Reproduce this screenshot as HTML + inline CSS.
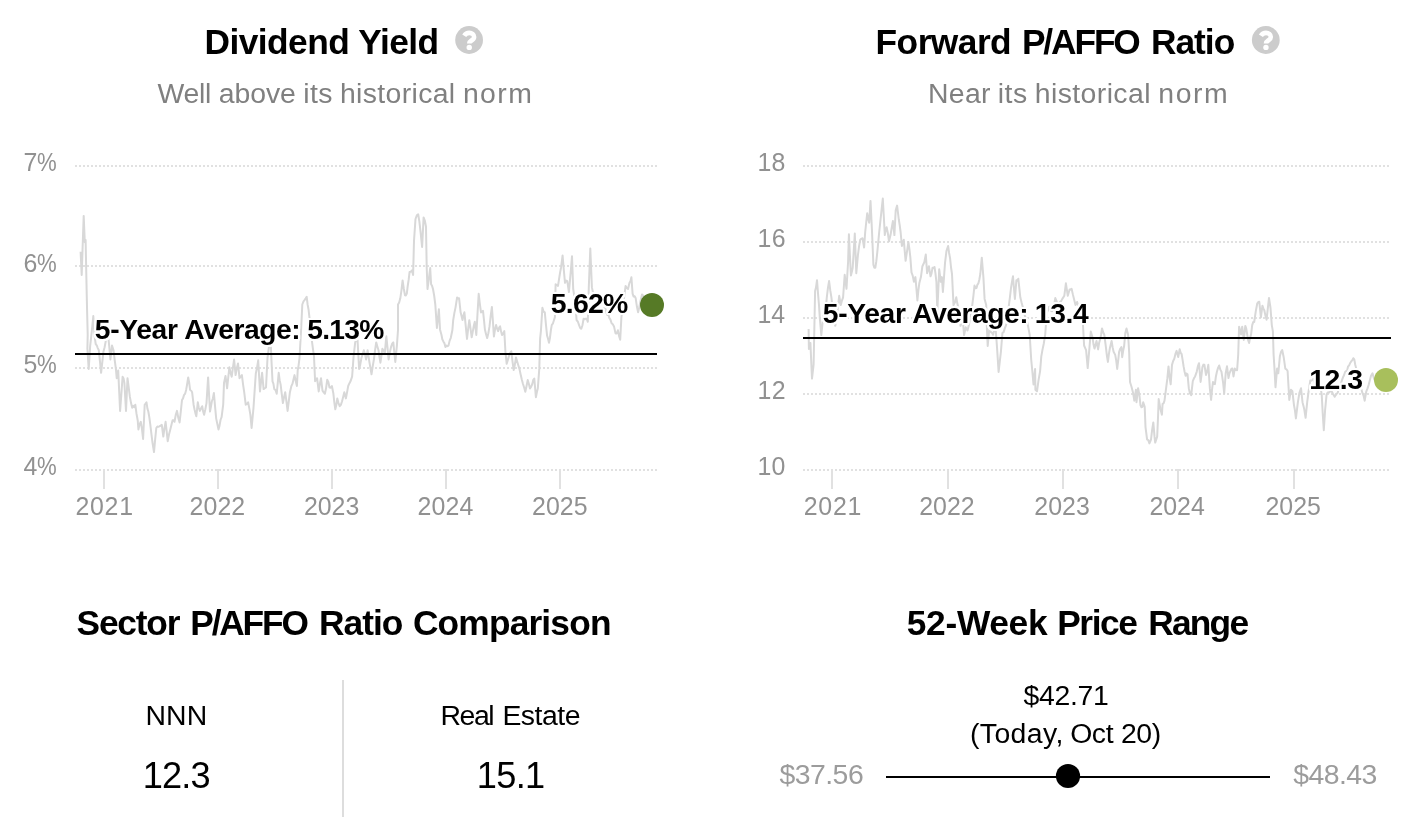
<!DOCTYPE html>
<html lang="en"><head><meta charset="utf-8"><title>Valuation</title>
<style>
html,body{margin:0;padding:0;background:#fff}
body{width:1424px;height:836px;position:relative;overflow:hidden;font-family:"Liberation Sans", sans-serif}
.tx{position:absolute;white-space:nowrap;line-height:1;font-family:"Liberation Sans", sans-serif;transform-origin:0 0}
#txt{position:absolute;left:0;top:0;width:1424px;height:836px;will-change:transform}
.w{position:absolute;top:0}
.pc{display:inline-block;transform:scaleX(0.8896);transform-origin:0 0}
.hl{text-shadow:2.20px 0.00px 0 #fff,2.03px 0.84px 0 #fff,1.56px 1.56px 0 #fff,0.84px 2.03px 0 #fff,0.00px 2.20px 0 #fff,-0.84px 2.03px 0 #fff,-1.56px 1.56px 0 #fff,-2.03px 0.84px 0 #fff,-2.20px 0.00px 0 #fff,-2.03px -0.84px 0 #fff,-1.56px -1.56px 0 #fff,-0.84px -2.03px 0 #fff,-0.00px -2.20px 0 #fff,0.84px -2.03px 0 #fff,1.56px -1.56px 0 #fff,2.03px -0.84px 0 #fff,1.20px 0.00px 0 #fff,0.85px 0.85px 0 #fff,0.00px 1.20px 0 #fff,-0.85px 0.85px 0 #fff,-1.20px 0.00px 0 #fff,-0.85px -0.85px 0 #fff,-0.00px -1.20px 0 #fff,0.85px -0.85px 0 #fff;z-index:2}
</style></head><body>
<svg width="1424" height="836" viewBox="0 0 1424 836" style="position:absolute;left:0;top:0">
<g transform="translate(469.1 40)"><circle r="13.9" fill="#cccccc"/><path d="M-4.9 -4.2C-3.7 -6.2 -2 -7.1 0.2 -7.1C2.9 -7.1 5 -5.4 5 -3.1C5 0.4 0.15 0.5 0.15 3.4" fill="none" stroke="#fff" stroke-width="4.6"/><circle cx="0.15" cy="7.4" r="2.7" fill="#fff"/></g>
<g transform="translate(1265.8 40)"><circle r="13.9" fill="#cccccc"/><path d="M-4.9 -4.2C-3.7 -6.2 -2 -7.1 0.2 -7.1C2.9 -7.1 5 -5.4 5 -3.1C5 0.4 0.15 0.5 0.15 3.4" fill="none" stroke="#fff" stroke-width="4.6"/><circle cx="0.15" cy="7.4" r="2.7" fill="#fff"/></g>
<!-- chart 1 -->
<line x1="75" x2="657" y1="166" y2="166" stroke="#e1e1e1" stroke-width="2" stroke-dasharray="2 2"/>
<line x1="75" x2="657" y1="266" y2="266" stroke="#e1e1e1" stroke-width="2" stroke-dasharray="2 2"/>
<line x1="75" x2="657" y1="368" y2="368" stroke="#e1e1e1" stroke-width="2" stroke-dasharray="2 2"/>
<line x1="75" x2="657" y1="470" y2="470" stroke="#e1e1e1" stroke-width="2" stroke-dasharray="2 2"/>
<rect x="103" y="469" width="2" height="20" fill="#e1e1e1"/>
<rect x="217" y="469" width="2" height="20" fill="#e1e1e1"/>
<rect x="331" y="469" width="2" height="20" fill="#e1e1e1"/>
<rect x="445" y="469" width="2" height="20" fill="#e1e1e1"/>
<rect x="559" y="469" width="2" height="20" fill="#e1e1e1"/>
<path d="M80.6 251.7 L81.7 275 L82.7 244.86 L83.7 215.9 L84.8 242.3 L85.6 240 L86.8 298.3 L87.7 335 L87.4 348.7 L88.7 368.9 L90.2 345.6 L91.23 336.29 L92.27 326.29 L93.3 316 L94.6 336.2 L95.7 344 L96.73 345.28 L97.77 348.12 L98.8 350.2 L99.95 361.42 L101.1 372.8 L102.25 362.54 L103.4 351.8 L104.6 347.27 L105.8 340.9 L106.95 336.5 L108.1 334.7 L109.25 346.35 L110.4 359.5 L112 345.6 L113.5 350.2 L114.7 360.09 L115.9 368.9 L116.7 378.2 L118.2 370.4 L119.15 390.54 L120.1 410.9 L121.35 394.22 L122.6 376.7 L123.5 378.21 L124.4 382.9 L126 410.9 L127.5 378.2 L128.7 387.46 L129.9 396.9 L131.05 403.06 L132.2 407.8 L133.23 405.9 L134.27 407.16 L135.3 404.7 L136.5 413.73 L137.7 420.2 L138.4 429.5 L139.6 424.15 L140.8 421.8 L141.95 428.83 L143.1 438.9 L144.7 404.7 L145.6 403.63 L146.5 402.3 L147.43 408.64 L148.37 411.79 L149.3 417.1 L150.33 424.95 L151.37 433.58 L152.4 442 L154 452.1 L155.15 439.3 L156.3 428 L157.33 426.58 L158.37 426.73 L159.4 426.4 L160.6 425.64 L161.8 424.9 L163.3 436.5 L164.45 428.3 L165.6 421.8 L166.65 431.07 L167.7 441.2 L169 434.45 L170.3 429.5 L171.45 424.72 L172.6 420.2 L173.55 420.33 L174.5 421.8 L175.75 414.82 L177 410.9 L178.3 417.78 L179.6 422.5 L180.8 411.34 L182 400 L183.03 398.39 L184.07 394.86 L185.1 393.8 L186.13 389.91 L187.17 384.02 L188.2 377.4 L189.15 382.44 L190.1 389.9 L191.1 390.51 L192.1 392.2 L193.6 404.7 L194.5 409.28 L195.4 413.11 L196.3 416.3 L197.8 402.3 L198.85 408 L199.9 410.9 L201.05 408.3 L202.2 406.2 L203.15 411.56 L204.1 414.8 L205.3 409.49 L206.5 403.1 L208.1 377.4 L209.05 394.19 L210 411.6 L210.9 406.83 L211.8 401.5 L212.85 398.47 L213.9 393 L215.05 406.35 L216.2 418.6 L217.35 424.07 L218.5 429.5 L219.53 425.65 L220.57 419.74 L221.6 417.1 L223.2 404.7 L224 382.9 L225.5 375.9 L227.1 388.3 L228.25 377.39 L229.4 367.3 L230.55 372.95 L231.7 376.7 L232.9 367.83 L234.1 359.5 L235.6 375.1 L236.8 368.2 L238 363.4 L239.5 378.2 L240.7 376.81 L241.9 375.1 L243.05 384.3 L244.2 392.2 L245.7 404.7 L246.9 404.06 L248.1 402.3 L249.25 408.15 L250.4 414.8 L251.6 428 L252.55 417.8 L253.5 407.8 L254.65 390.66 L255.8 373.5 L257 367.79 L258.2 360.3 L259.1 375.88 L260 391.4 L261.05 381.93 L262.1 372.8 L263.6 389.1 L264.8 388.27 L266 387.5 L267.5 358 L269.1 345.6 L269.7 322.2 L270.6 339.3 L271.5 361.1 L272.5 381.3 L273.4 383.69 L274.3 389.1 L275.5 389.99 L276.7 393.8 L277.7 383.63 L278.7 372.8 L279.65 380.15 L280.6 384.4 L281.75 393.9 L282.9 403.1 L284.05 397.31 L285.2 392.2 L286.4 401.02 L287.6 410.9 L288.75 401.55 L289.9 392.2 L291.4 386 L292.43 383.91 L293.47 379.6 L294.5 375.1 L295.7 380.68 L296.9 386 L297.7 370.4 L298.6 365.35 L299.5 358 L301.1 330 L302.3 304.5 L303.5 301.34 L304.7 299.9 L305.7 298.39 L306.7 296.8 L307.6 304.45 L308.5 309.2 L310.1 323.2 L311.7 335 L311.7 339.3 L312.85 348.1 L314 356.4 L315.1 381.3 L316.1 379.62 L317.1 378.2 L318.7 391.4 L319.85 384.06 L321 378.2 L322.5 390.7 L323.7 392.4 L324.9 393.8 L326.05 388.26 L327.2 379.8 L328.35 382.07 L329.5 387.5 L330.7 387.66 L331.9 386 L333.4 393.8 L334.35 402.58 L335.3 409.3 L336.3 405.09 L337.3 398.4 L338.5 403.07 L339.7 406.2 L340.85 404.84 L342 401.5 L343.15 396.91 L344.3 392.2 L345.9 398.4 L347.05 392.4 L348.2 386 L349.35 383.41 L350.5 381.3 L352.1 376.7 L353.6 356.4 L355.2 342.4 L356.35 339.43 L357.5 339.3 L359.1 368.9 L360.25 364.63 L361.4 358 L362.6 354.32 L363.8 350.2 L364.95 353.89 L366.1 359.5 L367.6 350.2 L368.55 356.47 L369.5 362.7 L370.5 368.45 L371.5 374.3 L372.7 366.44 L373.9 359.5 L375.05 350.46 L376.2 342.4 L377.35 346.42 L378.5 350.2 L379.45 356.85 L380.4 362.7 L381.4 356.06 L382.4 348.7 L383.6 350.87 L384.8 353.3 L386.3 336.2 L387.45 347.09 L388.6 359.5 L389.8 352.43 L391 347.1 L392.15 343.72 L393.3 342.4 L394.3 352.29 L395.3 361.9 L396.9 345.6 L398 330 L398 304.5 L399.15 302.56 L400.3 298.3 L401.45 290.31 L402.6 280.4 L403.8 288.75 L405 295.2 L405.9 295.41 L406.8 293.6 L407.73 285.98 L408.67 279.68 L409.6 271.9 L410.8 271.65 L412 270.3 L413.1 275 L414 240.8 L415.5 219 L416.85 215.32 L418.2 214.3 L419.35 221.3 L420.5 231.4 L422.1 247 L423.6 217.4 L424.8 220.55 L426 226.8 L426.7 267.2 L427.5 289 L428.85 278.91 L430.2 268 L431.1 284.3 L432.05 285.85 L433 289 L434.15 295.5 L435.3 304.5 L436.9 327.9 L437.9 318.75 L438.9 309.2 L440 329.4 L441.5 335 L442.3 339.3 L443.33 341.4 L444.37 343.12 L445.4 347.1 L446.43 345.51 L447.47 346.19 L448.5 345.6 L449.65 340.64 L450.8 337.8 L452.4 330 L453.2 320.1 L454.35 313.12 L455.5 307.6 L457.1 297.5 L458.1 298.58 L459.1 298.3 L460.6 312.3 L461.55 316.06 L462.5 320.1 L463.45 315.63 L464.4 312.3 L465.7 325.56 L467 338.9 L468.15 328.79 L469.3 320.2 L470.5 328.39 L471.7 337.3 L472.73 331.88 L473.77 325.97 L474.8 321.8 L476.3 335 L477.5 313.77 L478.7 293.8 L479.85 303.74 L481 312.4 L482 311.68 L483 310.9 L483.95 319.73 L484.9 329.5 L486.05 334.14 L487.2 338.1 L488.35 333.26 L489.5 326.4 L490.7 315.93 L491.9 307 L492.9 320.98 L493.9 336.5 L495 329.57 L496.1 324.9 L497.1 328.7 L498.1 331.1 L499.1 327.66 L500.1 326.4 L501.05 331.35 L502 335 L503.15 333.62 L504.3 331.1 L505.4 351.3 L506.7 363.8 L507.85 360.04 L509 356 L510.15 352.76 L511.3 351.3 L512.5 361.41 L513.7 370 L514.85 364.7 L516 357.5 L517.15 361.45 L518.3 365.3 L519.5 369.11 L520.7 374.7 L521.85 379.83 L523 384 L524.15 387.56 L525.3 391.8 L526.5 386.19 L527.7 380.1 L528.85 383.78 L530 388.6 L531.15 386.72 L532.3 384 L533.3 379.84 L534.3 378.5 L535.9 397.2 L536.85 392.26 L537.8 388.6 L539.3 368.4 L540.1 338.9 L540.9 331.1 L542.4 307.8 L543.6 311.6 L544.8 312.4 L545.95 324.7 L547.1 335.8 L548.05 338.68 L549 342.8 L549.93 337.98 L550.87 330.26 L551.8 324.9 L552.83 323.71 L553.87 320.48 L554.9 317.1 L555.6 284.3 L556.8 284.83 L558 285.9 L559.03 279.27 L560.07 272.65 L561.1 267.2 L562.6 255.5 L563.8 269.76 L565 282.8 L566.15 280.52 L567.3 281.2 L568.9 292.1 L569.93 280.68 L570.97 268.97 L572 256.3 L573.2 289 L574.15 295.42 L575.1 301.4 L576.6 320.2 L577.8 321.5 L579 324.9 L580.15 328.03 L581.3 328.8 L582.45 325.27 L583.6 318.7 L584.63 319.35 L585.67 318.73 L586.7 318.7 L587.8 321.8 L588.8 287.4 L590.3 248.5 L591.9 287.4 L593.03 292.71 L594.17 298.31 L595.3 304.5 L596.24 305.12 L597.18 308.18 L598.12 308.97 L599.06 309.76 L600 312.3 L600.92 310.09 L601.84 310.95 L602.76 308.83 L603.68 308.54 L604.6 307.6 L605.54 309.1 L606.48 312.91 L607.42 315.06 L608.36 314.3 L609.3 317.9 L610.45 319.64 L611.6 323.3 L612.8 324.3 L614 326.4 L615.5 333.4 L616.7 333.41 L617.9 330.3 L619.05 335.9 L620.2 339.7 L621.4 317.1 L622.35 310.29 L623.3 304.5 L624.45 294.74 L625.6 285.9 L626.8 288.01 L628 289 L629.5 282.8 L630.45 281.13 L631.4 277.3 L632.6 293.6 L633.63 296.55 L634.67 296.23 L635.7 298.3 L636.9 306.52 L638.1 312.3 L639.25 307.45 L640.4 301.4 L642 294.4 L642.91 295.31 L643.82 297.88 L644.73 296.44 L645.64 298.98 L646.55 297.89 L647.45 299.12 L648.36 302.46 L649.27 301.19 L650.18 303.9 L651.09 304.36 L652 305" fill="none" stroke="#d8d8d8" stroke-width="2" stroke-linejoin="round"/>
<rect x="75" y="353" width="582" height="2" fill="#000"/>
<circle cx="652" cy="305" r="12" fill="#567a26"/>
<!-- chart 2 -->
<line x1="803" x2="1389" y1="166" y2="166" stroke="#e1e1e1" stroke-width="2" stroke-dasharray="2 2"/>
<line x1="803" x2="1389" y1="242" y2="242" stroke="#e1e1e1" stroke-width="2" stroke-dasharray="2 2"/>
<line x1="803" x2="1389" y1="318" y2="318" stroke="#e1e1e1" stroke-width="2" stroke-dasharray="2 2"/>
<line x1="803" x2="1389" y1="394" y2="394" stroke="#e1e1e1" stroke-width="2" stroke-dasharray="2 2"/>
<line x1="803" x2="1389" y1="470" y2="470" stroke="#e1e1e1" stroke-width="2" stroke-dasharray="2 2"/>
<rect x="831" y="469" width="2" height="20" fill="#e1e1e1"/>
<rect x="947" y="469" width="2" height="20" fill="#e1e1e1"/>
<rect x="1062" y="469" width="2" height="20" fill="#e1e1e1"/>
<rect x="1177" y="469" width="2" height="20" fill="#e1e1e1"/>
<rect x="1293" y="469" width="2" height="20" fill="#e1e1e1"/>
<path d="M808.6 328.9 L808.9 349.1 L810.4 342.9 L812 378.6 L813.6 364.7 L814.5 321.1 L815.1 291.1 L816.05 287.11 L817 280.2 L818 293.37 L819 305.1 L819.8 318 L821.3 335.1 L822.5 323.49 L823.7 313.3 L825.2 314.4 L826.8 297.3 L827.95 287.82 L829.1 281 L830.25 290.22 L831.4 297.3 L833 311.3 L834.15 319.31 L835.3 325.8 L836.5 317.79 L837.7 308.7 L839.2 295.8 L840.8 305.1 L841.95 300.59 L843.1 297.3 L844.7 274.8 L846.5 288.8 L848.1 261.5 L848.9 234.3 L849.9 255.07 L850.9 275.5 L851.8 271.99 L852.7 267.8 L853.75 250.78 L854.8 233.5 L856.3 273.2 L857.9 255.3 L859.05 246.46 L860.2 239.8 L861.35 238.78 L862.5 238.2 L864.1 247.5 L865.2 232 L866.2 222.48 L867.2 213.3 L868.2 218.71 L869.2 222.7 L870.5 200.9 L871.9 228.9 L873.4 264.7 L874.35 267.83 L875.3 267.8 L876.3 261.44 L877.3 252.2 L878.25 242.17 L879.2 232 L880.2 222.56 L881.2 213.3 L882.8 198.6 L883.8 216.48 L884.8 235.1 L885.7 229.71 L886.6 227.3 L887.8 232.79 L889 241.3 L890.5 235.1 L891.7 227.99 L892.9 221.1 L894.4 235.1 L895.7 210.2 L897.1 205.6 L898.8 219.5 L899.7 225.17 L900.6 232 L901.9 246 L902.85 242.52 L903.8 239.8 L904.7 250.93 L905.6 260.8 L906.53 254.61 L907.47 248.43 L908.4 242.1 L909.35 248.66 L910.3 256.9 L911.5 272.4 L912.7 275.58 L913.9 281.8 L915.4 277.1 L916.4 288.47 L917.4 300.4 L918.35 290.69 L919.3 283.3 L920.9 277.1 L922.4 266.2 L923.35 264.28 L924.3 262.3 L925.8 254.5 L927.1 273.2 L928.9 266.2 L930.5 276.3 L931.5 273.65 L932.5 267.8 L933.5 267.96 L934.5 267 L935.45 273.38 L936.4 281.8 L937.3 311.3 L938.25 290.93 L939.2 269.3 L940.8 281.8 L941.9 277.1 L942.9 291.9 L943.95 277.97 L945 263.1 L946.5 250.7 L948.1 246 L949.1 252.95 L950.1 258.4 L951.05 267.5 L952 274 L953.5 305.1 L955.1 302 L956.3 297.3 L957.25 303.04 L958.2 307.1 L959.35 316.91 L960.5 325.8 L961.7 322.98 L962.9 321.1 L964.1 335.1 L965.7 327.3 L967.5 330.4 L969.1 324.2 L970.6 313.3 L972.2 305.6 L973.35 296.37 L974.5 285.6 L975.5 288.28 L976.5 288 L977.45 284.57 L978.4 283.3 L979.35 279.46 L980.3 274 L981.8 257.7 L983.4 277.1 L984.6 298.9 L986.2 305.1 L987 330.4 L987.7 346 L989.3 328.9 L990 330 L991.03 332.26 L992.07 333.01 L993.1 334.7 L994.25 330.1 L995.4 325.3 L997 347.1 L998.6 372 L999.75 361.88 L1000.9 351.8 L1002.4 333.1 L1003.6 332.11 L1004.8 328.4 L1005.95 325.3 L1007.1 322.2 L1008.7 306.7 L1009.85 297.88 L1011 288 L1012 281.68 L1013 276.3 L1013.95 288.21 L1014.9 298.9 L1016.4 280.2 L1017.35 280.73 L1018.3 278.7 L1019.3 287.94 L1020.3 297.3 L1021.5 302.22 L1022.7 306.7 L1023.85 312.7 L1025 316 L1026.15 319.82 L1027.3 322.2 L1028.5 328.41 L1029.7 334.7 L1031.2 359.5 L1032.35 371.5 L1033.5 384.4 L1035.1 368.9 L1035.4 389.8 L1037 391.3 L1038.5 380.4 L1040.1 371.1 L1041.3 356.4 L1042.5 349.64 L1043.7 344 L1045.2 334.7 L1046.8 312.9 L1047.95 310.44 L1049.1 306.7 L1050.13 307.16 L1051.17 311.07 L1052.2 311.3 L1053.23 306.16 L1054.27 303.82 L1055.3 298.1 L1056.5 300.99 L1057.7 305.1 L1058.85 305.01 L1060 302 L1061.15 301.11 L1062.3 298.9 L1063.3 297.36 L1064.3 295.8 L1065.9 283.3 L1066.85 289.61 L1067.8 295.8 L1069.6 289.5 L1070.6 289.63 L1071.6 288.8 L1072.8 294.13 L1074 298.9 L1075.5 305.1 L1077.1 302 L1078.25 306.05 L1079.4 311.3 L1080.6 314.27 L1081.8 319.1 L1083 325.3 L1084.1 345.5 L1085.1 347.89 L1086.1 350.2 L1087.7 368.1 L1089.5 347.1 L1090.8 331.5 L1092.6 337.8 L1093.55 344.59 L1094.5 348.6 L1095.5 345.14 L1096.5 340.9 L1098.1 349.4 L1099.1 342.99 L1100.1 339.3 L1101.05 334.88 L1102 328.4 L1103.15 332.27 L1104.3 334.7 L1105.9 347.1 L1106.9 355.8 L1107.9 361.9 L1108.85 354.26 L1109.8 348.6 L1111.6 340.9 L1112.6 347.13 L1113.6 351.8 L1115.2 354.9 L1116.2 360.49 L1117.2 368.9 L1118.15 360.84 L1119.1 351.8 L1120.25 348.72 L1121.4 347.1 L1122.2 357.2 L1123.15 350.88 L1124.1 346.3 L1125.3 333.1 L1126.5 328.4 L1128.1 334.7 L1129.2 353.3 L1130 382 L1131.5 386.7 L1133.1 392.9 L1134.3 400.7 L1135.9 389.8 L1136.5 402.2 L1138.1 388.2 L1139.3 394.4 L1140.5 405.3 L1141.45 407.3 L1142.4 406.9 L1143.2 402.2 L1144.7 406.9 L1145.5 427.1 L1147.1 439.5 L1148.25 440.19 L1149.4 443.4 L1151 439.5 L1152.1 430.2 L1153.3 422.4 L1154.5 436.4 L1155.2 442.6 L1156.2 439.57 L1157.2 436.4 L1158 417.8 L1158.7 399.1 L1160.3 408.4 L1161.9 414.7 L1162.6 403.8 L1163.55 403.38 L1164.5 400.7 L1165.7 391.3 L1167.3 378.9 L1168.5 366.4 L1169.6 377.3 L1170.7 384.3 L1172 364.9 L1173.15 360.98 L1174.3 358.7 L1175.45 353.87 L1176.6 350.9 L1178.2 357.1 L1179.7 349.3 L1180.65 352.87 L1181.6 354 L1182.6 359.95 L1183.6 366.4 L1184.6 371.79 L1185.6 375.8 L1186.55 373.5 L1187.5 374.2 L1188.8 388.2 L1189.8 392.9 L1191.2 395.1 L1192.8 381.1 L1193.95 378.31 L1195.1 376.4 L1196.7 371.8 L1197.85 366.45 L1199 363.2 L1200.6 381.9 L1201.5 375.05 L1202.4 367.1 L1203.4 364.62 L1204.4 364.8 L1206 374.9 L1207.15 371.3 L1208.3 364.8 L1209.9 388.9 L1211.1 399.8 L1212.05 389.33 L1213 381.9 L1213.95 383.78 L1214.9 384.2 L1215.9 376.47 L1216.9 371.8 L1218.05 367.87 L1219.2 365.5 L1220.35 369.65 L1221.5 371.8 L1223.1 382.6 L1224.2 393.5 L1225.7 373.3 L1227 366.3 L1228.5 378 L1229.45 373.4 L1230.4 371 L1231.4 368.79 L1232.4 368.6 L1233.5 376.4 L1234.8 368.6 L1235.95 370.01 L1237.1 370.2 L1238.2 354.7 L1239.1 326.7 L1240.05 330.18 L1241 334.4 L1242.2 326.7 L1243.8 339.9 L1245.3 325.9 L1246.25 328.69 L1247.2 334.4 L1248.15 340.27 L1249.1 343 L1250.1 337.58 L1251.1 334.4 L1252.2 325.1 L1253.2 322.07 L1254.2 322 L1255.8 311.1 L1257.3 303.3 L1258.3 302.05 L1259.3 301.8 L1260.9 317.3 L1262.4 305.7 L1263.35 308.37 L1264.3 310.3 L1265.45 315.78 L1266.6 319.7 L1268.2 304.9 L1269 297.9 L1270.5 308 L1271.8 325.1 L1272.9 331.3 L1273.6 354.7 L1274.4 367.1 L1275.5 387.3 L1277.1 368.6 L1278.3 373.3 L1279.9 356.2 L1281.05 351.86 L1282.2 350 L1283.8 357.8 L1285.3 368.6 L1286.45 369.28 L1287.6 371 L1289.3 399.9 L1290.9 389.8 L1292.4 391.3 L1294 405.3 L1294.95 410.4 L1295.9 418.5 L1296.9 410.19 L1297.9 402.2 L1299.4 392.9 L1301 388.2 L1302.5 402.2 L1304.1 408.4 L1305.6 417.8 L1307.2 402.2 L1308.8 389.8 L1310.3 380.4 L1311.33 380.75 L1312.37 380.17 L1313.4 378.9 L1314.38 381.74 L1315.35 382.82 L1316.33 384.71 L1317.3 385.1 L1318.33 386.29 L1319.37 386.08 L1320.4 386.7 L1321.7 394.4 L1322.8 414.7 L1323.8 430.2 L1325.1 410 L1326.6 394.4 L1327.67 392.49 L1328.73 392.85 L1329.8 391.3 L1330.83 391.51 L1331.87 391.63 L1332.9 393.7 L1334.7 396.8 L1335.75 395.08 L1336.8 393.7 L1337.83 392.57 L1338.87 387.84 L1339.9 386.7 L1340.93 383.84 L1341.97 380.09 L1343 377.3 L1344.03 375.28 L1345.07 372.03 L1346.1 371.1 L1347.07 370.62 L1348.05 366.43 L1349.03 365.59 L1350 363.3 L1351.15 361.49 L1352.3 360.2 L1353.3 358.26 L1354.3 359.4 L1355.2 364.52 L1356.1 368.12 L1357 374.2 L1358.03 376.95 L1359.07 381.04 L1360.1 386.7 L1361.25 388.72 L1362.4 392.9 L1363.55 395.51 L1364.7 400.7 L1366.3 391.3 L1367.45 388.63 L1368.6 385.1 L1369.8 380.48 L1371 375.8 L1372.5 373.4 L1374.1 378.9 L1375.02 380.53 L1375.93 380.46 L1376.85 380.74 L1377.76 378.38 L1378.68 379.15 L1379.59 378.61 L1380.51 379.78 L1381.42 379.97 L1382.34 380.62 L1383.25 380.42 L1384.17 379.05 L1385.08 379.67 L1386 380" fill="none" stroke="#d8d8d8" stroke-width="2" stroke-linejoin="round"/>
<rect x="803" y="337" width="588" height="2" fill="#000"/>
<circle cx="1386" cy="380" r="12" fill="#a8bf5c"/>
<!-- sector divider -->
<rect x="342" y="680" width="2" height="137" fill="#dddddd"/>
<!-- price range -->
<rect x="886" y="776" width="384" height="2" fill="#000"/>
<circle cx="1068" cy="776" r="12.1" fill="#000"/>
</svg>
<div id="txt">
<div id="t1" class="tx" style="left:0;top:24.00px;font-size:35.3px;font-weight:700;color:#000"><span id="t1_0" class="w" style="left:204.59px;letter-spacing:-0.556px">Dividend</span> <span id="t1_1" class="w" style="left:358.26px;letter-spacing:-0.566px">Yield</span></div>
<div id="s1" class="tx" style="left:0;top:79.30px;font-size:28.4px;font-weight:400;color:#808080"><span id="s1_0" class="w" style="left:157.53px;letter-spacing:-0.332px">Well</span> <span id="s1_1" class="w" style="left:218.81px;letter-spacing:-0.086px">above</span> <span id="s1_2" class="w" style="left:303.35px;letter-spacing:0.407px">its</span> <span id="s1_3" class="w" style="left:339.96px;letter-spacing:0.349px">historical</span> <span id="s1_4" class="w" style="left:462.92px;letter-spacing:1.400px">norm</span></div>
<div id="t2" class="tx" style="left:0;top:24.00px;font-size:35.3px;font-weight:700;color:#000"><span id="t2_0" class="w" style="left:875.59px;letter-spacing:-0.526px">Forward</span> <span id="t2_1" class="w" style="left:1021.88px;letter-spacing:-2.094px">P/AFFO</span> <span id="t2_2" class="w" style="left:1150.99px;letter-spacing:-1.003px">Ratio</span></div>
<div id="s2" class="tx" style="left:0;top:79.30px;font-size:28.4px;font-weight:400;color:#808080"><span id="s2_0" class="w" style="left:928.07px;letter-spacing:0.277px">Near</span> <span id="s2_1" class="w" style="left:997.83px;letter-spacing:0.462px">its</span> <span id="s2_2" class="w" style="left:1034.71px;letter-spacing:0.417px">historical</span> <span id="s2_3" class="w" style="left:1158.37px;letter-spacing:1.571px">norm</span></div>
<div id="t3" class="tx" style="left:0;top:604.90px;font-size:35.3px;font-weight:700;color:#000"><span id="t3_0" class="w" style="left:76.60px;letter-spacing:-1.213px">Sector</span> <span id="t3_1" class="w" style="left:190.29px;letter-spacing:-2.166px">P/AFFO</span> <span id="t3_2" class="w" style="left:318.99px;letter-spacing:-0.962px">Ratio</span> <span id="t3_3" class="w" style="left:412.91px;letter-spacing:-0.816px">Comparison</span></div>
<div id="t4" class="tx" style="left:0;top:605.20px;font-size:35.3px;font-weight:700;color:#000"><span id="t4_0" class="w" style="left:906.73px;letter-spacing:-0.285px">52-Week</span> <span id="t4_1" class="w" style="left:1057.23px;letter-spacing:-1.412px">Price</span> <span id="t4_2" class="w" style="left:1148.16px;letter-spacing:-1.750px">Range</span></div>
<div id="n1" class="tx" style="left:145.38px;top:701.28px;font-size:28.4px;font-weight:400;color:#000;letter-spacing:0.175px">NNN</div>
<div id="v1" class="tx" style="left:142.86px;top:758.36px;font-size:36.2px;font-weight:400;color:#000;letter-spacing:-0.914px">12.3</div>
<div id="n2" class="tx" style="left:0;top:701.28px;font-size:28.4px;font-weight:400;color:#000"><span id="n2_0" class="w" style="left:440.55px;letter-spacing:-1.476px">Real</span> <span id="n2_1" class="w" style="left:502.39px;letter-spacing:-0.478px">Estate</span></div>
<div id="v2" class="tx" style="left:476.86px;top:758.36px;font-size:36.2px;font-weight:400;color:#000;letter-spacing:-0.692px">15.1</div>
<div id="p1" class="tx" style="left:1023.50px;top:680.54px;font-size:28.4px;font-weight:400;color:#000;letter-spacing:-0.287px">$42.71</div>
<div id="p2" class="tx" style="left:0;top:718.54px;font-size:28.4px;font-weight:400;color:#000"><span id="p2_0" class="w" style="left:969.89px;letter-spacing:0.428px">(Today,</span> <span id="p2_1" class="w" style="left:1070.16px;letter-spacing:-0.393px">Oct</span> <span id="p2_2" class="w" style="left:1120.95px;letter-spacing:-0.399px">20)</span></div>
<div id="lo" class="tx" style="left:779.42px;top:759.54px;font-size:28.4px;font-weight:400;color:#9c9c9c;letter-spacing:-0.511px">$37.56</div>
<div id="hi" class="tx" style="left:1293.18px;top:759.54px;font-size:28.4px;font-weight:400;color:#9c9c9c;letter-spacing:-0.543px">$48.43</div>
<div id="y17" class="tx" style="left:23.58px;top:149.92px;font-size:24.9px;font-weight:400;color:#919191;letter-spacing:-0.337px">7<span class="pc">%</span></div>
<div id="y16" class="tx" style="left:23.58px;top:250.92px;font-size:24.9px;font-weight:400;color:#919191;letter-spacing:-0.337px">6<span class="pc">%</span></div>
<div id="y15" class="tx" style="left:23.58px;top:351.92px;font-size:24.9px;font-weight:400;color:#919191;letter-spacing:-0.337px">5<span class="pc">%</span></div>
<div id="y14" class="tx" style="left:23.58px;top:453.92px;font-size:24.9px;font-weight:400;color:#919191;letter-spacing:-0.337px">4<span class="pc">%</span></div>
<div id="x11" class="tx" style="left:75.49px;top:494.01px;font-size:24.9px;font-weight:400;color:#919191;letter-spacing:0.713px">2021</div>
<div id="x12" class="tx" style="left:189.61px;top:494.01px;font-size:24.9px;font-weight:400;color:#919191;letter-spacing:0.059px">2022</div>
<div id="x13" class="tx" style="left:303.94px;top:494.01px;font-size:24.9px;font-weight:400;color:#919191;letter-spacing:-0.008px">2023</div>
<div id="x14" class="tx" style="left:417.61px;top:494.01px;font-size:24.9px;font-weight:400;color:#919191;letter-spacing:0.105px">2024</div>
<div id="x15" class="tx" style="left:532.00px;top:494.01px;font-size:24.9px;font-weight:400;color:#919191;letter-spacing:0.092px">2025</div>
<div id="a1" class="tx hl" style="left:0;top:315.43px;font-size:28.2px;font-weight:700;color:#000"><span id="a1_0" class="w" style="left:94.75px;letter-spacing:-0.294px">5-Year</span> <span id="a1_1" class="w" style="left:184.31px;letter-spacing:-0.470px">Average:</span> <span id="a1_2" class="w" style="left:307.27px;letter-spacing:-0.747px">5.13%</span></div>
<div id="e1" class="tx hl" style="left:550.83px;top:288.54px;font-size:28.4px;font-weight:700;color:#000;letter-spacing:-0.754px">5.62%</div>
<div id="y28" class="tx" style="left:757.45px;top:150.01px;font-size:24.9px;font-weight:400;color:#919191;letter-spacing:0.298px">18</div>
<div id="y26" class="tx" style="left:757.45px;top:226.01px;font-size:24.9px;font-weight:400;color:#919191;letter-spacing:0.400px">16</div>
<div id="y24" class="tx" style="left:757.45px;top:302.01px;font-size:24.9px;font-weight:400;color:#919191;letter-spacing:0.035px">14</div>
<div id="y22" class="tx" style="left:757.45px;top:378.01px;font-size:24.9px;font-weight:400;color:#919191;letter-spacing:0.529px">12</div>
<div id="y20" class="tx" style="left:757.45px;top:454.01px;font-size:24.9px;font-weight:400;color:#919191;letter-spacing:0.106px">10</div>
<div id="x21" class="tx" style="left:803.79px;top:494.01px;font-size:24.9px;font-weight:400;color:#919191;letter-spacing:0.725px">2021</div>
<div id="x22" class="tx" style="left:919.15px;top:494.01px;font-size:24.9px;font-weight:400;color:#919191;letter-spacing:0.064px">2022</div>
<div id="x23" class="tx" style="left:1034.31px;top:494.01px;font-size:24.9px;font-weight:400;color:#919191;letter-spacing:0.020px">2023</div>
<div id="x24" class="tx" style="left:1149.61px;top:494.01px;font-size:24.9px;font-weight:400;color:#919191;letter-spacing:-0.086px">2024</div>
<div id="x25" class="tx" style="left:1265.49px;top:494.01px;font-size:24.9px;font-weight:400;color:#919191;letter-spacing:0.021px">2025</div>
<div id="a2" class="tx hl" style="left:0;top:299.23px;font-size:28.2px;font-weight:700;color:#000"><span id="a2_0" class="w" style="left:822.75px;letter-spacing:-0.295px">5-Year</span> <span id="a2_1" class="w" style="left:912.31px;letter-spacing:-0.470px">Average:</span> <span id="a2_2" class="w" style="left:1034.86px;letter-spacing:-0.325px">13.4</span></div>
<div id="e2" class="tx hl" style="left:1309.22px;top:364.54px;font-size:28.4px;font-weight:700;color:#000;letter-spacing:-0.489px">12.3</div>
</div>
</body></html>
